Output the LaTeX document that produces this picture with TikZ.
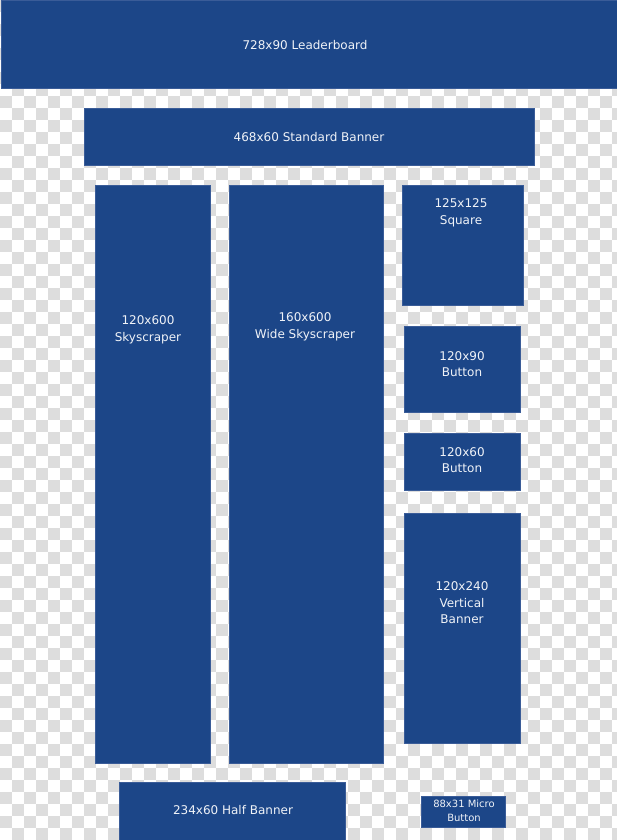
\documentclass[tikz,border=0pt]{standalone}
\usepackage{fontspec}
\setmainfont{DejaVu Sans}
\usepackage{xcolor}
\definecolor{adblue}{RGB}{28,70,136}
\definecolor{adedge}{RGB}{58,92,152}
\definecolor{checkgray}{RGB}{221,221,221}
\definecolor{adwhite}{RGB}{240,243,248}
\tikzset{
    adbox/.style={fill=adblue, draw=adedge, line width=0.6pt},
    adtext/.style={text=adwhite, align=center, inner sep=0pt, font=\fontsize{12}{16.5}\selectfont},
    microtext/.style={adtext, font=\fontsize{10}{14}\selectfont}
}

\begin{document}
\begin{tikzpicture}[x=1pt, y=-1pt]
        \useasboundingbox (0,0) rectangle (617,840);
        \clip (0,0) rectangle (617,840);

        % Checkered background
        \fill[white] (0,0) rectangle (617,840);
        \foreach \j in {0,...,69}
            \foreach \i in {0,...,25}
                \fill[checkgray] ({24*\i+12*mod(\j,2)},{12*\j}) rectangle ++(12,12);

        % Banners across the top
        \draw[adbox] (1,0) rectangle (617,88);
        \node[adtext] (leader) at (305,45) {728x90 Leaderboard};
        \draw[adbox] (84,108) rectangle (534,165);
        \node[adtext] (standard) at (309,137) {468x60 Standard Banner};

        % Skyscrapers
        \draw[adbox] (95,185) rectangle (210,763);
        \node[adtext] (sky) at (148,330) {120x600\\Skyscraper};
        \draw[adbox] (229,185) rectangle (383,763);
        \node[adtext] (widesky) at (305,327) {160x600\\Wide Skyscraper};

        % Right column
        \draw[adbox] (402,185) rectangle (523,305);
        \node[adtext] (square) at (461,213) {125x125\\Square};
        \draw[adbox] (404,326) rectangle (520,412);
        \node[adtext] (buttonA) at (462,364) {120x90\\Button};
        \draw[adbox] (404,433) rectangle (520,490);
        \node[adtext] (buttonB) at (462,460) {120x60\\Button};
        \draw[adbox] (404,513) rectangle (520,743);
        \node[adtext] (vertical) at (462,603) {120x240\\Vertical\\Banner};

        % Bottom row
        \draw[adbox] (119,782) rectangle (345,840);
        \node[adtext] (half) at (233,810) {234x60 Half Banner};
        \draw[adbox] (421,796) rectangle (505,827);
        \node[microtext] (micro) at (464,811) {88x31 Micro\\Button};

    \end{tikzpicture}
\end{document}
